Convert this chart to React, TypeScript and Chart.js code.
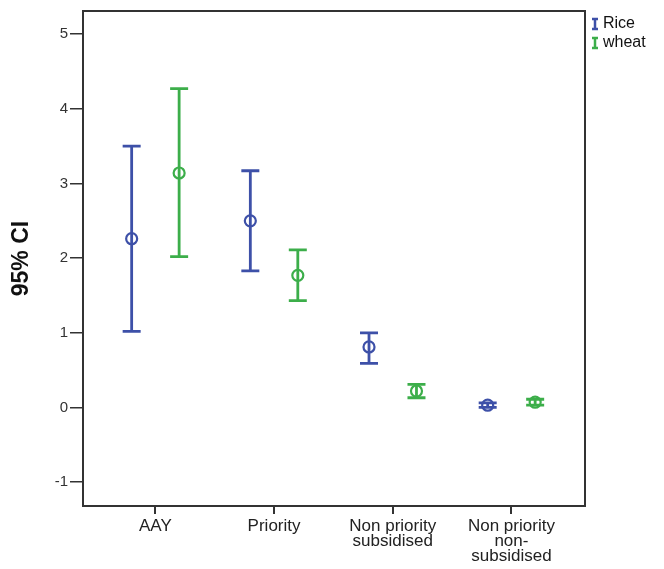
import React, { useEffect, useRef } from "react";
import { Chart, registerables } from "chart.js";

Chart.register(...registerables);

const categories: string[][] = [
  ["AAY"],
  ["Priority"],
  ["Non priority", "subsidised"],
  ["Non priority", "non-", "subsidised"],
];
const seriesNames = ["Rice", "wheat"];
const riceMean = [2.26, 2.5, 0.81, 0.03];
const riceLower = [1.02, 1.83, 0.59, 0.0];
const riceUpper = [3.5, 3.17, 1.0, 0.06];
const wheatMean = [3.14, 1.77, 0.22, 0.07];
const wheatLower = [2.02, 1.43, 0.13, 0.03];
const wheatUpper = [4.27, 2.11, 0.31, 0.11];
const yTicks = [-1, 0, 1, 2, 3, 4, 5];
const yTitle = "95% CI";

const RICE = "#3d50a8";
const WHEAT = "#3cae4a";
const FONT = "'Liberation Sans', Arial, sans-serif";
const OFFSET = 0.2;

function buildData(mean: number[], lo: number[], hi: number[], off: number) {
  return mean.map((m, i) => ({ x: i + off, y: m, lo: lo[i], hi: hi[i] }));
}

const errorBarPlugin = {
  id: "errorBars",
  beforeDatasetsDraw(chart: any) {
    const { ctx, scales } = chart;
    const x = scales.x;
    const y = scales.y;
    chart.data.datasets.forEach((ds: any) => {
      ctx.save();
      ctx.strokeStyle = ds.borderColor;
      ctx.lineWidth = 2.8;
      ds.data.forEach((pt: any) => {
        const px = x.getPixelForValue(pt.x);
        const yl = y.getPixelForValue(pt.lo);
        const yh = y.getPixelForValue(pt.hi);
        const cap = 9;
        ctx.beginPath();
        ctx.moveTo(px, yl);
        ctx.lineTo(px, yh);
        ctx.moveTo(px - cap, yl);
        ctx.lineTo(px + cap, yl);
        ctx.moveTo(px - cap, yh);
        ctx.lineTo(px + cap, yh);
        ctx.stroke();
      });
      ctx.restore();
    });
  },
  afterDraw(chart: any) {
    const { ctx, chartArea } = chart;
    ctx.save();
    ctx.strokeStyle = "#333";
    ctx.lineWidth = 2;
    ctx.strokeRect(
      chartArea.left,
      chartArea.top,
      chartArea.right - chartArea.left,
      chartArea.bottom - chartArea.top
    );
    // legend
    const lx = chartArea.right + 10;
    chart.data.datasets.forEach((ds: any, i: number) => {
      const cy = chartArea.top + 13 + i * 19;
      ctx.strokeStyle = ds.borderColor;
      ctx.lineWidth = 2.5;
      ctx.beginPath();
      ctx.moveTo(lx, cy - 5);
      ctx.lineTo(lx, cy + 5);
      ctx.moveTo(lx - 3, cy - 5);
      ctx.lineTo(lx + 3, cy - 5);
      ctx.moveTo(lx - 3, cy + 5);
      ctx.lineTo(lx + 3, cy + 5);
      ctx.stroke();
      ctx.fillStyle = "#111";
      ctx.font = `16px ${FONT}`;
      ctx.textBaseline = "middle";
      ctx.textAlign = "left";
      ctx.fillText(ds.label, lx + 8, cy);
    });
    ctx.restore();
  },
};

export default function App() {
  const ref = useRef<HTMLCanvasElement | null>(null);
  useEffect(() => {
    if (!ref.current) return;
    const chart = new Chart(ref.current, {
      type: "scatter",
      data: {
        datasets: [
          {
            label: seriesNames[0],
            data: buildData(riceMean, riceLower, riceUpper, -OFFSET),
            borderColor: RICE,
            backgroundColor: "rgba(0,0,0,0)",
            pointRadius: 5.5,
            pointBorderWidth: 2.2,
          },
          {
            label: seriesNames[1],
            data: buildData(wheatMean, wheatLower, wheatUpper, OFFSET),
            borderColor: WHEAT,
            backgroundColor: "rgba(0,0,0,0)",
            pointRadius: 5.5,
            pointBorderWidth: 2.2,
          },
        ],
      } as any,
      options: {
        responsive: false,
        animation: false,
        layout: { padding: { top: 10, right: 79, left: 0, bottom: 0 } },
        plugins: {
          legend: { display: false },
          tooltip: { enabled: false },
        },
        scales: {
          x: {
            type: "linear",
            min: -0.61,
            max: 3.62,
            afterBuildTicks: (s: any) => {
              s.ticks = categories.map((_, i) => ({ value: i }));
            },
            afterFit: (s: any) => {
              s.height = 63;
            },
            ticks: {
              autoSkip: false,
              maxRotation: 0,
              padding: 5,
              color: "#222",
              font: { family: FONT, size: 17, lineHeight: 0.88 },
              callback: (v: any) => categories[v as number] ?? "",
            },
            grid: {
              display: true,
              drawOnChartArea: false,
              drawTicks: true,
              tickLength: 8,
              color: "#333",
              lineWidth: 2,
            },
            border: { display: false },
          },
          y: {
            type: "linear",
            min: -1.32,
            max: 5.31,
            afterBuildTicks: (s: any) => {
              s.ticks = yTicks.map((v) => ({ value: v }));
            },
            afterFit: (s: any) => {
              s.width = 83;
            },
            ticks: {
              padding: 2,
              color: "#333",
              font: { family: FONT, size: 15 },
            },
            grid: {
              display: true,
              drawOnChartArea: false,
              drawTicks: true,
              tickLength: 13,
              color: "#333",
              lineWidth: 1.5,
            },
            border: { display: false },
            title: {
              display: true,
              text: yTitle,
              color: "#111",
              font: { family: FONT, size: 23, weight: "bold" },
              padding: { top: 8, bottom: 4 },
            },
          },
        },
      } as any,
      plugins: [errorBarPlugin],
    });
    return () => chart.destroy();
  }, []);
  return (
    <div style={{ position: "absolute", left: 0, top: 0, width: 664, height: 569, background: "#fff" }}>
      <canvas ref={ref} width={664} height={569} />
    </div>
  );
}
